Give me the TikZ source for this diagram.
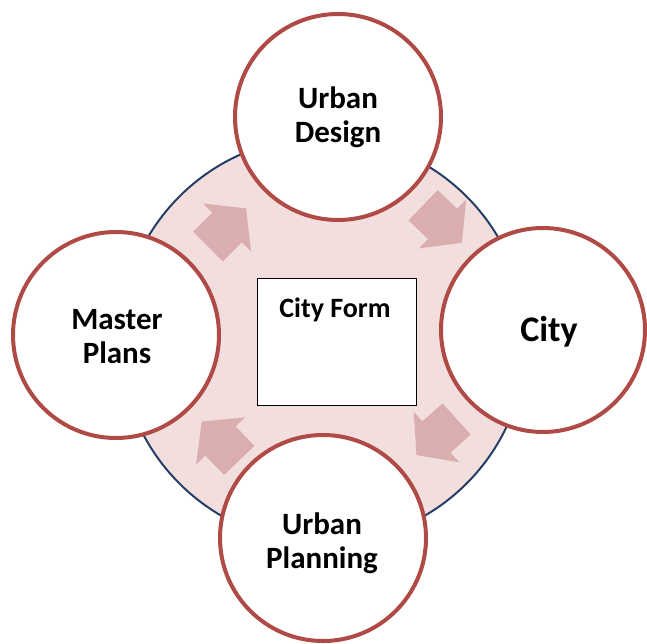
\documentclass[tikz,border=0pt]{standalone}
\usepackage{fontspec}
\setmainfont{Carlito}
\definecolor{ringred}{RGB}{176,74,70}
\definecolor{diskpink}{RGB}{242,222,221}
\definecolor{arrowpink}{RGB}{218,174,174}
\definecolor{diskblue}{RGB}{36,62,102}
\begin{document}
\begin{tikzpicture}[x=1pt,y=-1pt,
  bubble/.style={circle, draw=ringred, line width=4pt, fill=white,
    minimum size=206pt, inner sep=0pt, align=center,
    font=\bfseries\fontsize{31pt}{34pt}\selectfont},
  formbox/.style={draw=black, line width=0.9pt, fill=white,
    minimum width=159pt, minimum height=127pt, inner sep=0pt},
  flowarrow/.style={fill=arrowpink, draw=none}
]
\useasboundingbox (0,0) rectangle (647,644);

% shaded disk behind the cycle
\node[circle, fill=diskpink, draw=diskblue, line width=2pt,
  minimum size=406pt, inner sep=0pt] (disk) at (323,340) {};

% block arrows between the stages
\foreach \cx/\cy/\ang in {227/227.5/45, 442.5/224/-44, 436.5/437/222, 220.5/441/134}{
  \fill[flowarrow, shift={(\cx,\cy)}, rotate=\ang]
    (-27,-21) -- (0,-21) -- (0,-34) -- (27,0) -- (0,34) -- (0,21) -- (-27,21) -- cycle;
}

% central box
\node[formbox] (form) at (336.5,341.5) {};
\node[anchor=base, font=\bfseries\fontsize{28pt}{32pt}\selectfont] (formtxt) at (335,317) {City Form};

% stages
\node[bubble] (design) at (338,117) {Urban\\Design};
\node[bubble] (plans) at (116,335) {};
\node[align=center, font=\bfseries\fontsize{31pt}{34pt}\selectfont] (planstxt) at (117,337) {Master\\Plans};
\node[bubble, minimum size=204pt] (city) at (543,330) {};
\node[font=\bfseries\fontsize{36pt}{40pt}\selectfont] (citytxt) at (549,332) {City};
\node[bubble] (planning) at (323,538) {};
\node[align=center, font=\bfseries\fontsize{31pt}{34pt}\selectfont] (planningtxt) at (322,543) {Urban\\Planning};
\end{tikzpicture}
\end{document}
